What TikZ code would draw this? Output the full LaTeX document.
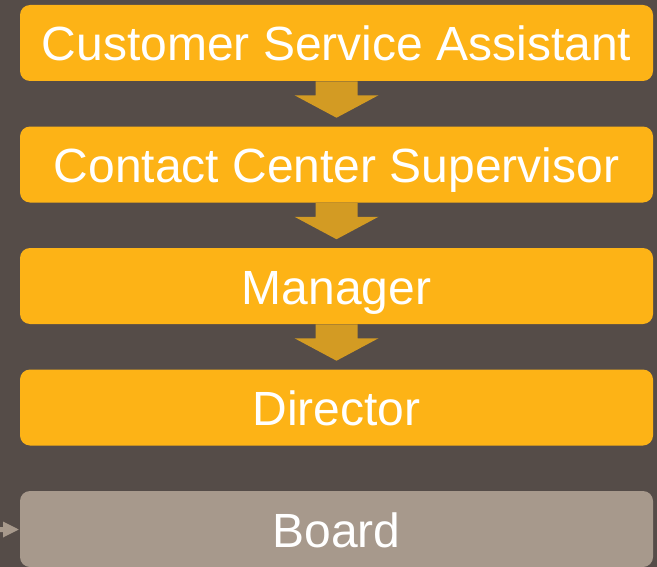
\documentclass[tikz,border=0pt]{standalone}
\usepackage{fontspec}
\setmainfont{Liberation Sans}
\usetikzlibrary{calc}
\definecolor{bgdark}{RGB}{85,76,72}
\definecolor{steporange}{RGB}{253,179,22}
\definecolor{arrowgold}{RGB}{211,155,35}
\definecolor{boardgray}{RGB}{167,153,140}
% block arrow hanging below node #1, tip just above node #2
\newcommand\flowarrow[2]{%
  \fill[arrowgold] ($(#1.south)+(-21,0)$) -- ($(#1.south)+(-21,14)$)
    -- ($(#1.south)+(-42,14)$) -- ($(#2.north)+(0,-8.5)$)
    -- ($(#1.south)+(42,14)$) -- ($(#1.south)+(21,14)$)
    -- ($(#1.south)+(21,0)$) -- cycle;}
\begin{document}
\begin{tikzpicture}[x=0.75pt,y=-0.75pt,
  level/.style={fill=steporange, rounded corners=7.5pt, minimum width=474.75pt,
    minimum height=57pt, inner sep=0pt, text height=36pt, text depth=9pt,
    text=white, font=\fontsize{36}{40}\selectfont},
  boardbox/.style={level, fill=boardgray}]
\useasboundingbox (0,0) rectangle (657,567);
\fill[bgdark] (0,0) rectangle (657,567);
\node[level] (csa) at (336.5,43) {Customer Service Assistant};
\node[level] (ccs) at (336.5,164.5) {Contact Center Supervisor};
\node[level] (mgr) at (336.5,286) {Manager};
\node[level] (dir) at (336.5,407.5) {Director};
\node[boardbox] (board) at (336.5,529) {Board};
\flowarrow{csa}{ccs}
\flowarrow{ccs}{mgr}
\flowarrow{mgr}{dir}
% incoming arrow at the left edge of the board box
\coordinate (feed) at (0,529.5);
\fill[boardgray] ($(feed)+(0,-2.5)$) -- ($(feed)+(3,-2.5)$) -- ($(feed)+(3,-8)$)
  -- ($(board.west)+(-1,0.5)$) -- ($(feed)+(3,8)$) -- ($(feed)+(3,2.5)$)
  -- ($(feed)+(0,2.5)$) -- cycle;
\end{tikzpicture}
\end{document}
